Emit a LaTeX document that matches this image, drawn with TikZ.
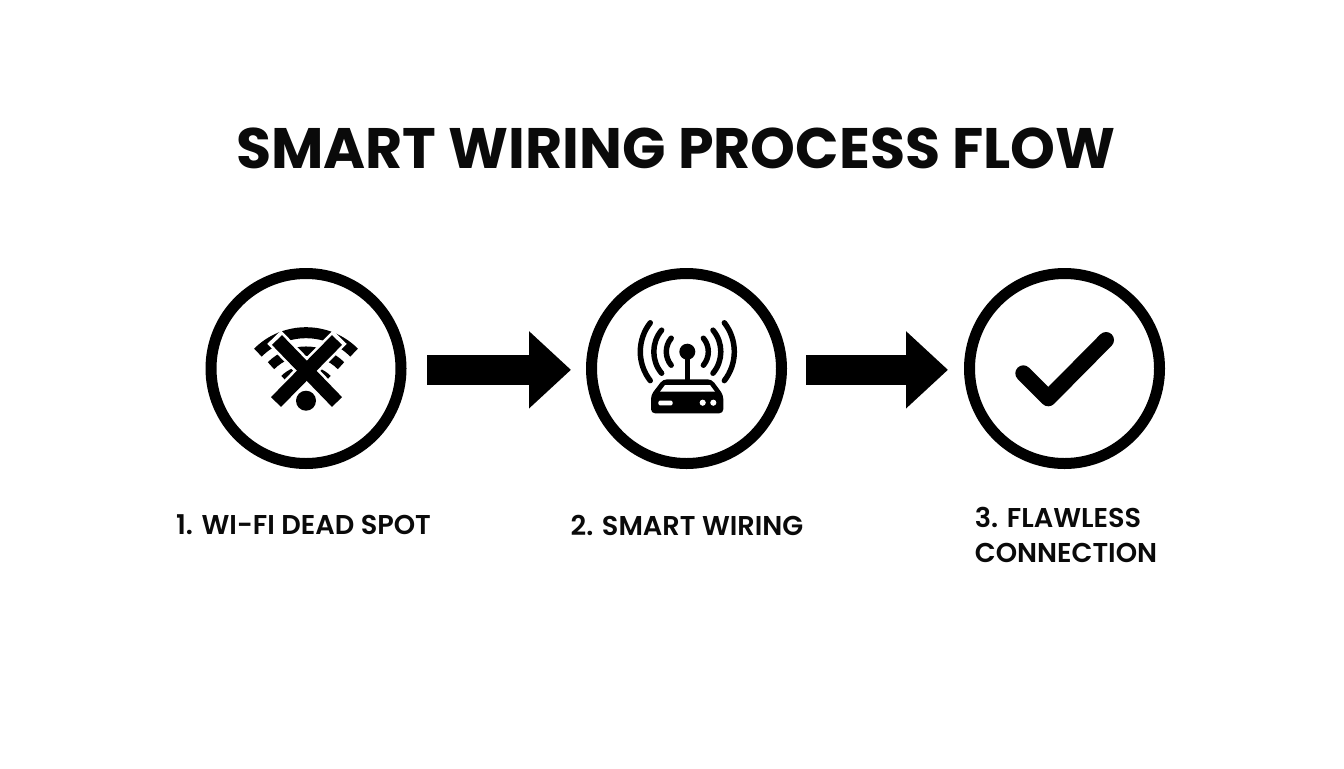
\documentclass[tikz,border=0pt]{standalone}
\usepackage{fontspec}
\setmainfont{Poppins}[BoldFont={Poppins SemiBold}]
\newfontfamily\titlefont{Poppins}[UprightFont=*-Bold]
\newfontfamily\labelfont{Poppins SemiBold}
\usetikzlibrary{arrows.meta,calc}
\definecolor{ink}{HTML}{0A0A0A}
\tikzset{
  x=0.75pt,y=-0.75pt,
  ring/.style={circle,draw=black,line width=8.25pt,minimum size=142.5pt,inner sep=0pt,outer sep=4.125pt},
  flow/.style={line width=22.5pt,-{Triangle[length=31.5pt,width=56pt]}},
  title/.style={font=\fontsize{42.8}{52}\titlefont,text=ink,inner sep=0pt},
  label/.style={font=\fontsize{20.4}{26}\labelfont,text=ink,inner sep=0pt,align=center},
  wifiarc/.style={line cap=butt,draw=black},
  radioarc/.style={line cap=round,draw=black,line width=4.1pt},
  xbar/.style={line cap=butt,draw=black,line width=10.5pt},
  xhalo/.style={line cap=butt,draw=white,line width=14.5pt},
}
\begin{document}
\begin{tikzpicture}
\useasboundingbox (0,0) rectangle (1344,768);
\fill[white] (0,0) rectangle (1344,768);
\node[title] (t) at (676,148) {SMART WIRING PROCESS FLOW};
\node[ring] (c1) at (306,368.5) {};
\node[ring] (c2) at (686.5,368.5) {};
\node[ring] (c3) at (1064.5,368.5) {};
\draw[flow,shorten <=15.4pt,shorten >=11.25pt] ([yshift=-1pt]c1.east) -- ([yshift=-1pt]c2.west);
\draw[flow,shorten <=14.25pt,shorten >=12pt] ([yshift=-1pt]c2.east) -- ([yshift=-1pt]c3.west);
\node[label] (l1) at (303.5,525) {1. WI-FI DEAD SPOT};
\node[label] (l2) at (687,525) {2. SMART WIRING};
\node[label,align=left] (l3) at (1066,535) {3. FLAWLESS\\CONNECTION};
% dead wifi icon
\coordinate (d) at (306,400.7);
\foreach \r/\w in {68/8.25,49.5/7.1,32/4.5}
  \draw[wifiarc,line width=\w pt] ($(d)+(-45:\r)$) arc[start angle=45,end angle=135,radius=\r*0.75pt];
\coordinate (xa) at (277,340); \coordinate (xb) at (337,402);
\coordinate (xc) at (337,340); \coordinate (xd) at (276,402);
\draw[xhalo] ($(xa)!-3pt!(xb)$) -- ($(xb)!-3pt!(xa)$);
\draw[xhalo] ($(xc)!-3pt!(xd)$) -- ($(xd)!-3pt!(xc)$);
\draw[xbar] (xa) -- (xb);
\draw[xbar] (xc) -- (xd);
\fill[white] (d) circle[radius=8.6pt];
\fill[black] (d) circle[radius=7.5pt];
% router icon
\coordinate (r) at (687.3,351.7);
\foreach \rr/\a in {47/38,33.5/40,21/40}{
  \draw[radioarc] ($(r)+({180+\a}:\rr)$) arc[start angle={180-\a},end angle={180+\a},radius=\rr*0.75pt];
  \draw[radioarc] ($(r)+({-\a}:\rr)$) arc[start angle=\a,end angle=-\a,radius=\rr*0.75pt];
}
\fill[black] (r) circle[radius=6pt];
\draw[black,line width=3.75pt] (r) -- (687.3,382);
\fill[black,rounded corners=3pt] (663,379.3) -- (711.7,379.3) -- (723.3,395) -- (723.3,413.3) -- (651,413.3) -- (651,395) -- cycle;
\fill[white] (665,385) -- (710,385) -- (715,391.7) -- (660,391.7) -- cycle;
\fill[white,rounded corners=1pt] (658.3,400.7) rectangle (672.7,405.3);
\fill[white] (702.7,402.7) circle[radius=2.3pt];
\fill[white] (713.3,402.7) circle[radius=2.3pt];
% check icon
\draw[black,line width=12pt,line cap=round,line join=round] (1023.3,373.3) -- (1048.3,398.3) -- (1106,340);
\end{tikzpicture}
\end{document}
